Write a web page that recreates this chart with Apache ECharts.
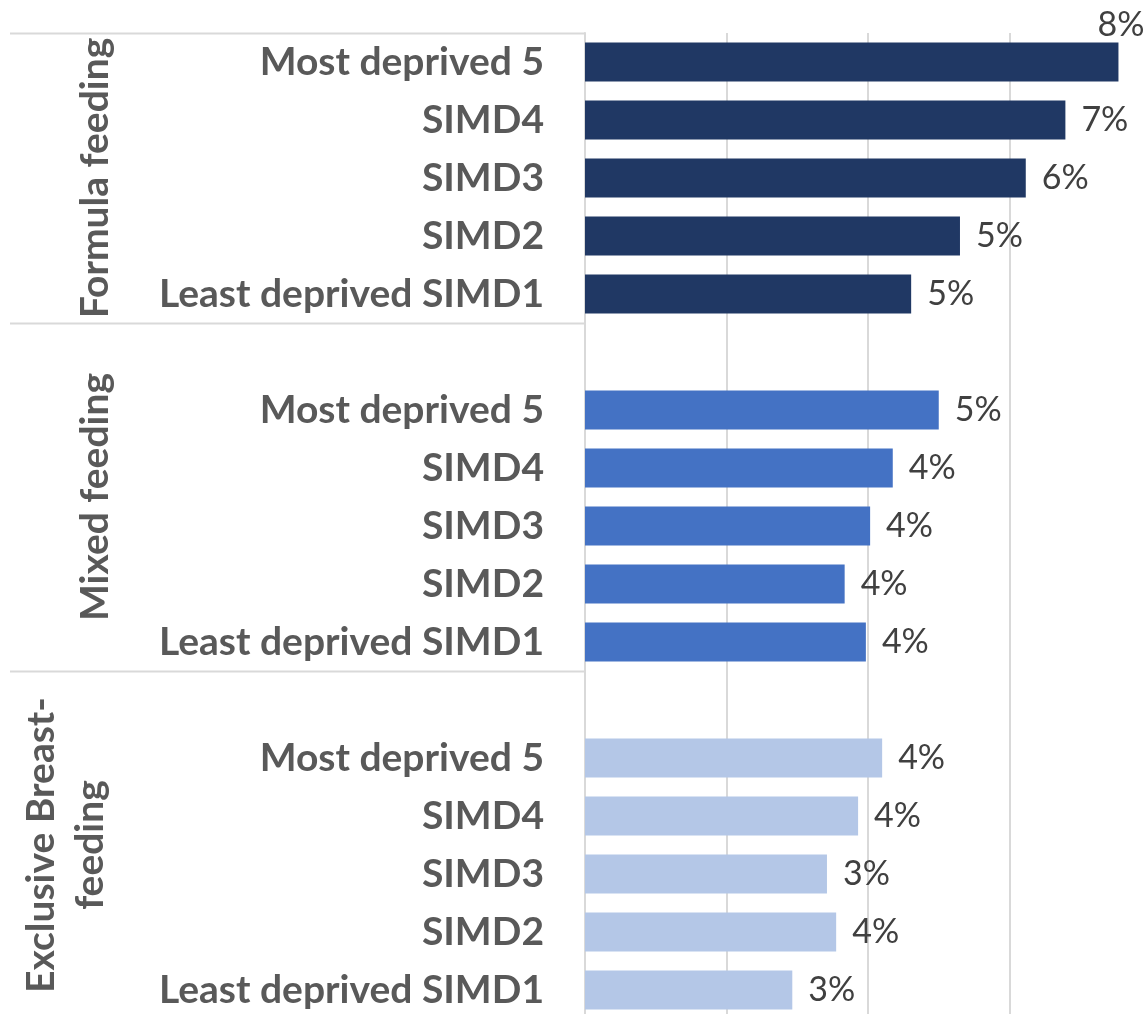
<!DOCTYPE html>
<html>
<head>
<meta charset="utf-8">
<script src="https://cdn.jsdelivr.net/npm/echarts@6/dist/echarts.min.js"></script>
<style>
html,body{margin:0;padding:0;background:#fff;overflow:hidden;width:1143px;height:1014px;}
#chart{width:1170px;height:1040px;}
</style>
</head>
<body>
<div id="chart"></div>
<script>
// ---- data ----
var tiers = ['Most deprived 5', 'SIMD4', 'SIMD3', 'SIMD2', 'Least deprived SIMD1'];
var groupNames = ['Formula feeding', 'Mixed feeding', 'Exclusive Breast-\nfeeding'];
var formulaValues = [7.54, 6.79, 6.23, 5.30, 4.61];
var mixedValues = [5.00, 4.35, 4.03, 3.67, 3.97];
var ebfValues = [4.20, 3.86, 3.42, 3.55, 2.93];
var xTicks = [0, 2, 4, 6, 8];

var colors = ['#203864', '#4472C4', '#B4C7E7'];
var FONT = 'Lato';

// Build 17-slot category list: group1 (5), blank, group2 (5), blank, group3 (5)
var seriesValues = [formulaValues, mixedValues, ebfValues];
var categories = [];
var groupStart = [];
for (var g = 0; g < 3; g++) {
  if (g > 0) categories.push('');
  groupStart.push(categories.length);
  tiers.forEach(function (t) { categories.push(t); });
}
var series = seriesValues.map(function (vals, g) {
  var data = categories.map(function () { return null; });
  vals.forEach(function (v, i) {
    var item = { value: v };
    // Excel moved the first (overflowing) label up-left
    if (g === 0 && i === 0) {
      item.label = { position: 'right', distance: 0, offset: [-21, -37] };
    }
    data[groupStart[g] + i] = item;
  });
  return {
    type: 'bar',
    data: data,
    barWidth: 39,
    barGap: '-100%',
    itemStyle: { color: colors[g] },
    label: {
      show: true,
      position: 'right',
      distance: 16,
      fontFamily: FONT,
      fontSize: 34,
      color: '#404040',
      formatter: function (p) { return Math.round(p.value) + '%'; }
    },
    animation: false
  };
});

var chart = echarts.init(document.getElementById('chart'));
chart.setOption({
  animation: false,
  grid: { left: 585, top: 33, width: 566, height: 986, containLabel: false },
  xAxis: {
    type: 'value', min: xTicks[0], max: xTicks[xTicks.length - 1], interval: 2,
    axisLabel: { show: false },
    axisLine: { show: false },
    axisTick: { show: false },
    splitLine: { show: true, lineStyle: { color: '#D9D9D9', width: 2 } }
  },
  yAxis: {
    type: 'category', inverse: true, data: categories,
    axisLine: { show: true, lineStyle: { color: '#D9D9D9', width: 2 } },
    axisTick: { show: false },
    axisLabel: {
      margin: 41, fontFamily: FONT, fontWeight: 'bold', fontSize: 39, color: '#595959'
    }
  },
  series: series
});

// separators and group labels from axis positions
var p0 = chart.convertToPixel({ yAxisIndex: 0 }, 0);
var p1 = chart.convertToPixel({ yAxisIndex: 0 }, 1);
var band = p1 - p0;
var axisX = chart.convertToPixel({ xAxisIndex: 0 }, 0);
var graphics = [];
var bounds = [0, 5, 11, 17];
bounds.forEach(function (b) {
  var y = Math.round(p0 - band / 2 + b * band) + 0.5;
  graphics.push({
    type: 'line', silent: true,
    shape: { x1: 10, y1: y, x2: axisX, y2: y },
    style: { stroke: '#D9D9D9', lineWidth: 2 }
  });
});
var groupRanges = [[0, 5], [5, 11], [11, 17]];
groupRanges.forEach(function (r, g) {
  var cy = p0 - band / 2 + (r[0] + r[1]) / 2 * band;
  var cx = g === 2 ? 66 : 95;
  graphics.push({
    type: 'text', silent: true,
    x: cx, y: cy, rotation: Math.PI / 2,
    style: {
      text: groupNames[g], fontFamily: FONT, fontWeight: 'bold', fontSize: 39,
      fill: '#595959', align: 'center', verticalAlign: 'middle', lineHeight: 49
    }
  });
});
chart.setOption({ graphic: graphics });
</script>
</body>
</html>
